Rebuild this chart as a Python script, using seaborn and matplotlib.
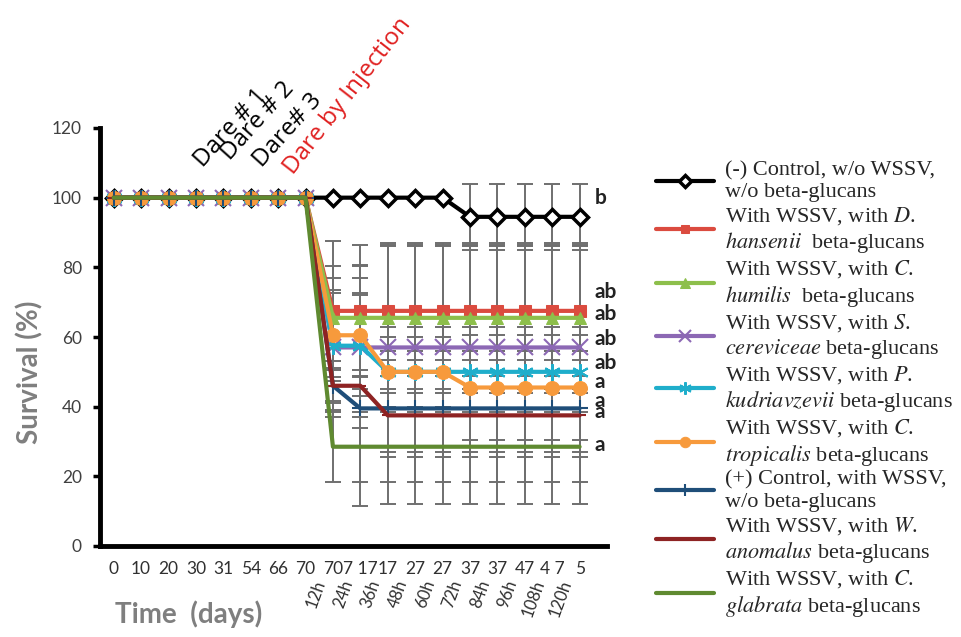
import matplotlib
matplotlib.use("Agg")
import matplotlib.pyplot as plt
import seaborn as sns
import numpy as np
from matplotlib.transforms import blended_transform_factory

# ---------------- data ----------------
x_index = list(range(18))
day_labels = ["0", "10", "20", "30", "31", "54", "66", "70", "70", "7 17",
              "17", "27", "27", "37", "37", "47", "4 7", "5"]
hour_labels = ["12h", "24h", "36h", "48h", "60h", "72h", "84h", "96h", "108h", "120h"]

neg_control    = [100, 100, 100, 100, 100, 100, 100, 100, 100, 100, 100, 100, 100, 94.5, 94.5, 94.5, 94.5, 94.5]
d_hansenii     = [100, 100, 100, 100, 100, 100, 100, 100, 67.5, 67.5, 67.5, 67.5, 67.5, 67.5, 67.5, 67.5, 67.5, 67.5]
c_humilis      = [100, 100, 100, 100, 100, 100, 100, 100, 65.5, 65.5, 65.5, 65.5, 65.5, 65.5, 65.5, 65.5, 65.5, 65.5]
s_cereviceae   = [100, 100, 100, 100, 100, 100, 100, 100, 57, 57, 57, 57, 57, 57, 57, 57, 57, 57]
p_kudriavzevii = [100, 100, 100, 100, 100, 100, 100, 100, 57.5, 57.5, 50, 50, 50, 50, 50, 50, 50, 50]
c_tropicalis   = [100, 100, 100, 100, 100, 100, 100, 100, 60.5, 60.5, 50, 50, 50, 45.5, 45.5, 45.5, 45.5, 45.5]
pos_control    = [100, 100, 100, 100, 100, 100, 100, 100, 46, 39.5, 39.5, 39.5, 39.5, 39.5, 39.5, 39.5, 39.5, 39.5]
w_anomalus     = [100, 100, 100, 100, 100, 100, 100, 100, 46, 46, 37.5, 37.5, 37.5, 37.5, 37.5, 37.5, 37.5, 37.5]
c_glabrata     = [100, 100, 100, 100, 100, 100, 100, 100, 28.5, 28.5, 28.5, 28.5, 28.5, 28.5, 28.5, 28.5, 28.5, 28.5]

neg_control_sd    = [0, 0, 0, 0, 0, 0, 0, 0, 0, 0, 0, 0, 0, 9.5, 9.5, 9.5, 9.5, 9.5]
d_hansenii_sd     = [0, 0, 0, 0, 0, 0, 0, 0, 20.2, 18.8, 18.8, 18.8, 18.8, 18.8, 18.8, 18.8, 18.8, 18.8]
c_humilis_sd      = [0, 0, 0, 0, 0, 0, 0, 0, 15, 15, 20.5, 20.5, 20.5, 20.5, 20.5, 20.5, 20.5, 20.5]
s_cereviceae_sd   = [0, 0, 0, 0, 0, 0, 0, 0, 20, 20, 30, 30, 30, 30, 30, 30, 30, 30]
p_kudriavzevii_sd = [0, 0, 0, 0, 0, 0, 0, 0, 16, 14.5, 6, 6, 6, 6, 6, 6, 6, 6]
c_tropicalis_sd   = [0, 0, 0, 0, 0, 0, 0, 0, 12, 12, 10, 10, 10, 15, 15, 15, 15, 15]
pos_control_sd    = [0, 0, 0, 0, 0, 0, 0, 0, 7, 5.5, 14, 14, 14, 14, 14, 14, 14, 14]
w_anomalus_sd     = [0, 0, 0, 0, 0, 0, 0, 0, 5, 34.6, 25.5, 25.5, 25.5, 25.5, 25.5, 25.5, 25.5, 25.5]
c_glabrata_sd     = [0, 0, 0, 0, 0, 0, 0, 0, 10, 10, 10, 10, 10, 10, 10, 10, 10, 10]

labels = [
    "(-) Control, w/o WSSV,\nw/o beta-glucans",
    "With WSSV, with $\\mathit{D}$.\n$\\mathit{hansenii}$  beta-glucans",
    "With WSSV, with $\\mathit{C}$.\n$\\mathit{humilis}$  beta-glucans",
    "With WSSV, with $\\mathit{S}$.\n$\\mathit{cereviceae}$ beta-glucans",
    "With WSSV, with $\\mathit{P}$.\n$\\mathit{kudriavzevii}$ beta-glucans",
    "With WSSV, with $\\mathit{C}$.\n$\\mathit{tropicalis}$ beta-glucans",
    "(+) Control, with WSSV,\nw/o beta-glucans",
    "With WSSV, with $\\mathit{W}$.\n$\\mathit{anomalus}$ beta-glucans",
    "With WSSV, with $\\mathit{C}$.\n$\\mathit{glabrata}$ beta-glucans",
]
series = [neg_control, d_hansenii, c_humilis, s_cereviceae, p_kudriavzevii,
          c_tropicalis, pos_control, w_anomalus, c_glabrata]
series_sd = [neg_control_sd, d_hansenii_sd, c_humilis_sd, s_cereviceae_sd, p_kudriavzevii_sd,
             c_tropicalis_sd, pos_control_sd, w_anomalus_sd, c_glabrata_sd]

letters = ["b", "ab", "ab", "ab", "ab", "a", "a", "a", "a"]
letter_y = [100, 73, 66.5, 59.5, 52.5, 47, 41.5, 38.5, 29]

# ---------------- style ----------------
colors = ["#000000", "#DB4B3F", "#8DBF4B", "#8C68B4", "#1FAECB",
          "#F79A3C", "#1F4E79", "#8E2323", "#5F8A30"]
markers = ["D", "s", "^", "x", (6, 2, 0), "o", "+", "_", None]
msizes = [8, 8, 9, 11, 12, 10, 11, 8, 0]

sns.set_theme(style="white")
plt.rcParams["font.family"] = ["Lato", "DejaVu Sans"]
plt.rcParams["mathtext.fontset"] = "stix"

fig = plt.figure(figsize=(9.61, 6.37), dpi=100)
ax = fig.add_axes([100 / 961, 1 - 546 / 637, 507 / 961, 418 / 637])

x_post = x_index[8:]
for vals, sd in zip(series, series_sd):
    v = np.array(vals[8:])
    s = np.array(sd[8:])
    m = s > 0
    ax.errorbar(np.array(x_post)[m], v[m], yerr=s[m], fmt="none", ecolor="#6f6f6f",
                elinewidth=1.4, capsize=6, capthick=1.4, zorder=3)

for i, (vals, lab) in enumerate(zip(series, labels)):
    mk = markers[i]
    kw = dict(color=colors[i], linewidth=3, label=lab, ax=ax, zorder=4 + i * 0.01)
    if mk is not None:
        kw.update(marker=mk, markersize=msizes[i])
        if mk == "D":
            kw.update(markerfacecolor="white", markeredgecolor="black", markeredgewidth=2.5)
        elif mk in ("x", "+", "_") or isinstance(mk, tuple):
            kw.update(markeredgewidth=1.5, markeredgecolor=colors[i])
        else:
            kw.update(markeredgecolor=colors[i])
    sns.lineplot(x=x_index, y=vals, **kw)

ax.set_xlim(-0.5, 18)
ax.set_ylim(0, 120)
ax.set_yticks([0, 20, 40, 60, 80, 100, 120])
ax.tick_params(axis="y", left=True, length=5, width=2.5, color="black",
               labelsize=12.5, labelcolor="#404040", pad=8)
ax.set_xticks(x_index)
ax.set_xticklabels(day_labels, fontsize=12.5, color="#303030")
ax.tick_params(axis="x", bottom=False, pad=5)
for sp in ["top", "right"]:
    ax.spines[sp].set_visible(False)
for sp in ["left", "bottom"]:
    ax.spines[sp].set_linewidth(3.5)
    ax.spines[sp].set_color("black")
ax.set_xlabel("")
ax.set_ylabel("")
fig.text(30 / 961, 1 - 372 / 637, "Survival (%)", rotation=90, fontsize=20,
         fontweight="bold", color="#7f7f7f", ha="center", va="center")

trans = blended_transform_factory(ax.transData, ax.transAxes)
for k, hl in enumerate(hour_labels):
    ax.text(x_post[k] - 0.45, -0.082, hl, transform=trans, rotation=70,
            rotation_mode="anchor", ha="right", va="center", fontsize=12, color="#303030")

fig.text(115 / 961, 1 - 614 / 637, "Time  (days)", fontsize=20, fontweight="bold",
         color="#7f7f7f", ha="left", va="center")

for lt, ly in zip(letters, letter_y):
    ax.text(17.55, ly, lt, fontsize=15, fontweight="bold", color="#222222",
            ha="left", va="center")

dare_font = ["Open Sans", "DejaVu Sans"]
ax.text(3.25, 108.5, "Dare # 1", rotation=48, rotation_mode="anchor", fontsize=17.5,
        color="black", ha="left", va="baseline", family=dare_font)
ax.text(4.25, 110.5, "Dare # 2", rotation=48, rotation_mode="anchor", fontsize=17.5,
        color="black", ha="left", va="baseline", family=dare_font)
ax.text(5.4, 108.5, "Dare# 3", rotation=48, rotation_mode="anchor", fontsize=17.5,
        color="black", ha="left", va="baseline", family=dare_font)
ax.text(6.55, 106.5, "Dare by Injection", rotation=52, rotation_mode="anchor", fontsize=17.5,
        color="#E02020", ha="left", va="baseline", family=dare_font)

leg = fig.legend(*ax.get_legend_handles_labels(), loc="upper left",
                 bbox_to_anchor=(656 / 961, 1 - 161 / 637), frameon=False,
                 prop={"family": "Liberation Serif", "size": 16},
                 handlelength=2.6, handletextpad=0.5, labelspacing=0.13,
                 markerscale=0.75, borderpad=0, borderaxespad=0)
if ax.get_legend():
    ax.get_legend().remove()

fig.savefig("out.png", dpi=100)
